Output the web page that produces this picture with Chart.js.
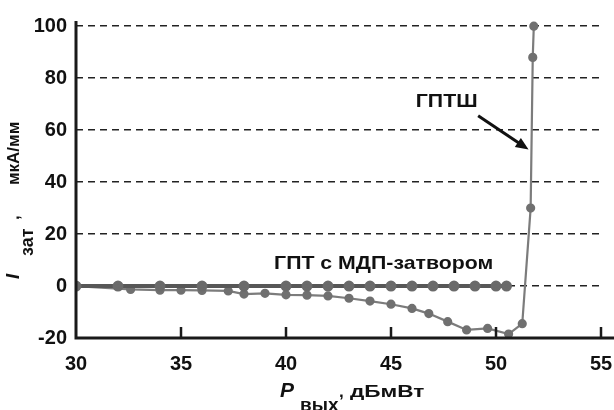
<!DOCTYPE html>
<html>
<head>
<meta charset="utf-8">
<script src="https://cdn.jsdelivr.net/npm/chart.js@4"></script>
<style>
  html, body { margin: 0; padding: 0; background: #fff; }
  #wrap { width: 614px; height: 410px; }
</style>
</head>
<body>
<div id="wrap"><canvas id="grafik" width="614" height="410"></canvas></div>
<script>
// метки осей
const xTicks = [30, 35, 40, 45, 50, 55];
const yTicks = [-20, 0, 20, 40, 60, 80, 100];

// ГПТ с МДП-затвором: ток затвора почти не меняется
const mdpX = [30, 32, 34, 36, 38, 40, 41, 42, 43, 44, 45, 46, 47, 48, 49, 50, 50.5];
const mdpY = [0, 0, 0, 0, 0, 0, 0, 0, 0, 0, 0, 0, 0, 0, 0, 0, 0];

// ГПТШ: ток уходит в минус, потом резкий рост
const gptshX = [30, 32.6, 34, 35, 36, 37.25, 38, 39, 40, 41, 42, 43, 44, 45, 46, 46.8, 47.7, 48.6, 49.6, 50.6, 51.25, 51.65, 51.75, 51.8];
const gptshY = [0, -1.3, -1.6, -1.6, -1.7, -1.9, -3.1, -2.8, -3.4, -3.5, -3.8, -4.7, -5.8, -7.0, -8.6, -10.6, -13.7, -16.9, -16.3, -18.5, -14.5, 30, 88, 100];

// подписи на поле графика (в единицах осей)
const metkaGptsh = { text: "ГПТШ", x: 47.65, y: 71 };
const strelka = { x1: 49.15, y1: 65.5, x2: 51.55, y2: 52.5 };
const metkaMdp = { text: "ГПТ с МДП-затвором", x: 44.65, y: 8.5 };

const SHRIFT = "'Liberation Sans', Arial, sans-serif";

function toPoints(xs, ys) {
    return xs.map((x, i) => ({ x: x, y: ys[i] }));
}

// текст, растянутый по горизонтали
function shirokiyText(ctx, text, x, y, k) {
    ctx.save();
    ctx.translate(x, y);
    ctx.scale(k, 1);
    ctx.fillText(text, 0, 0);
    ctx.restore();
    return ctx.measureText(text).width * k;
}

const podpisi = {
    id: "podpisi",
    afterDraw(chart) {
        const ctx = chart.ctx;
        const sx = chart.scales.x;
        const sy = chart.scales.y;
        const area = chart.chartArea;
        ctx.save();

        // оси
        ctx.strokeStyle = "#1a1a1a";
        ctx.lineWidth = 3;
        ctx.beginPath();
        ctx.moveTo(area.left, area.top);
        ctx.lineTo(area.left, area.bottom);
        ctx.lineTo(chart.width, area.bottom);
        ctx.stroke();

        // засечки внутрь
        ctx.lineWidth = 2.5;
        for (const v of xTicks.slice(1)) {
            const px = sx.getPixelForValue(v);
            ctx.beginPath();
            ctx.moveTo(px, area.bottom);
            ctx.lineTo(px, area.bottom - 11);
            ctx.stroke();
        }

        ctx.fillStyle = "#111";
        ctx.textBaseline = "middle";
        ctx.textAlign = "center";
        ctx.font = "bold 19px " + SHRIFT;
        shirokiyText(ctx, metkaGptsh.text, sx.getPixelForValue(metkaGptsh.x), sy.getPixelForValue(metkaGptsh.y), 1.12);
        shirokiyText(ctx, metkaMdp.text, sx.getPixelForValue(metkaMdp.x), sy.getPixelForValue(metkaMdp.y), 1.12);

        // стрелка
        const ax = sx.getPixelForValue(strelka.x1), ay = sy.getPixelForValue(strelka.y1);
        const bx = sx.getPixelForValue(strelka.x2), by = sy.getPixelForValue(strelka.y2);
        const ugol = Math.atan2(by - ay, bx - ax);
        ctx.strokeStyle = "#111";
        ctx.lineWidth = 3;
        ctx.beginPath();
        ctx.moveTo(ax, ay);
        ctx.lineTo(bx - 9 * Math.cos(ugol), by - 9 * Math.sin(ugol));
        ctx.stroke();
        ctx.beginPath();
        ctx.moveTo(bx, by);
        ctx.lineTo(bx - 14 * Math.cos(ugol - 0.4), by - 14 * Math.sin(ugol - 0.4));
        ctx.lineTo(bx - 14 * Math.cos(ugol + 0.4), by - 14 * Math.sin(ugol + 0.4));
        ctx.closePath();
        ctx.fill();

        // подпись оси X: P вых, дБмВт
        ctx.textAlign = "left";
        ctx.textBaseline = "alphabetic";
        ctx.font = "italic bold 20px " + SHRIFT;
        shirokiyText(ctx, "P", 280, 397, 1.05);
        ctx.font = "bold 19px " + SHRIFT;
        shirokiyText(ctx, "вых", 300, 411, 1.0);
        ctx.font = "bold 17px " + SHRIFT;
        shirokiyText(ctx, ",", 339, 397, 1.0);
        shirokiyText(ctx, "дБмВт", 350, 397, 1.33);

        // подпись оси Y: I зат , мкА/мм
        ctx.rotate(-Math.PI / 2);
        ctx.font = "italic bold 19px " + SHRIFT;
        ctx.fillText("I", -279, 19);
        ctx.font = "bold 18px " + SHRIFT;
        ctx.fillText("зат", -256, 33);
        ctx.font = "bold 17px " + SHRIFT;
        ctx.fillText(",", -220, 19);
        ctx.fillText("мкА/мм", -185, 19);

        ctx.restore();
    }
};

new Chart(document.getElementById("grafik"), {
    type: "line",
    data: {
        datasets: [
            {
                label: "ГПТ с МДП-затвором",
                data: toPoints(mdpX, mdpY),
                borderColor: "#575757",
                borderWidth: 4,
                pointBackgroundColor: "#6a6a6a",
                pointBorderColor: "#6a6a6a",
                pointRadius: 3.5,
                tension: 0
            },
            {
                label: "ГПТШ",
                data: toPoints(gptshX, gptshY),
                borderColor: "#7c7c7c",
                borderWidth: 2.2,
                pointBackgroundColor: "#707070",
                pointBorderColor: "#707070",
                pointRadius: 3.5,
                tension: 0
            }
        ]
    },
    options: {
        responsive: false,
        animation: false,
        layout: { padding: { top: 20, right: 13, left: 0, bottom: 0 } },
        plugins: {
            legend: { display: false },
            tooltip: { enabled: false }
        },
        scales: {
            x: {
                type: "linear",
                min: 30,
                max: 55,
                afterBuildTicks: s => { s.ticks = xTicks.map(v => ({ value: v })); },
                afterFit: s => { s.height = 72; s.paddingRight = 0; s.paddingLeft = 0; },
                grid: { display: false, drawTicks: false },
                border: { display: false },
                ticks: {
                    padding: 14,
                    color: "#111",
                    font: { family: SHRIFT, size: 20, weight: "bold" }
                }
            },
            y: {
                min: -20,
                max: 102,
                afterBuildTicks: s => { s.ticks = yTicks.map(v => ({ value: v })); },
                afterFit: s => { s.width = 76; },
                grid: {
                    drawTicks: false,
                    lineWidth: 1.4,
                    color: c => (c.tick && c.tick.value === -20) ? "rgba(0,0,0,0)" : "#222"
                },
                border: { display: false, dash: [7, 5] },
                ticks: {
                    padding: 9,
                    color: "#111",
                    font: { family: SHRIFT, size: 20, weight: "bold" }
                }
            }
        }
    },
    plugins: [podpisi]
});
</script>
</body>
</html>
